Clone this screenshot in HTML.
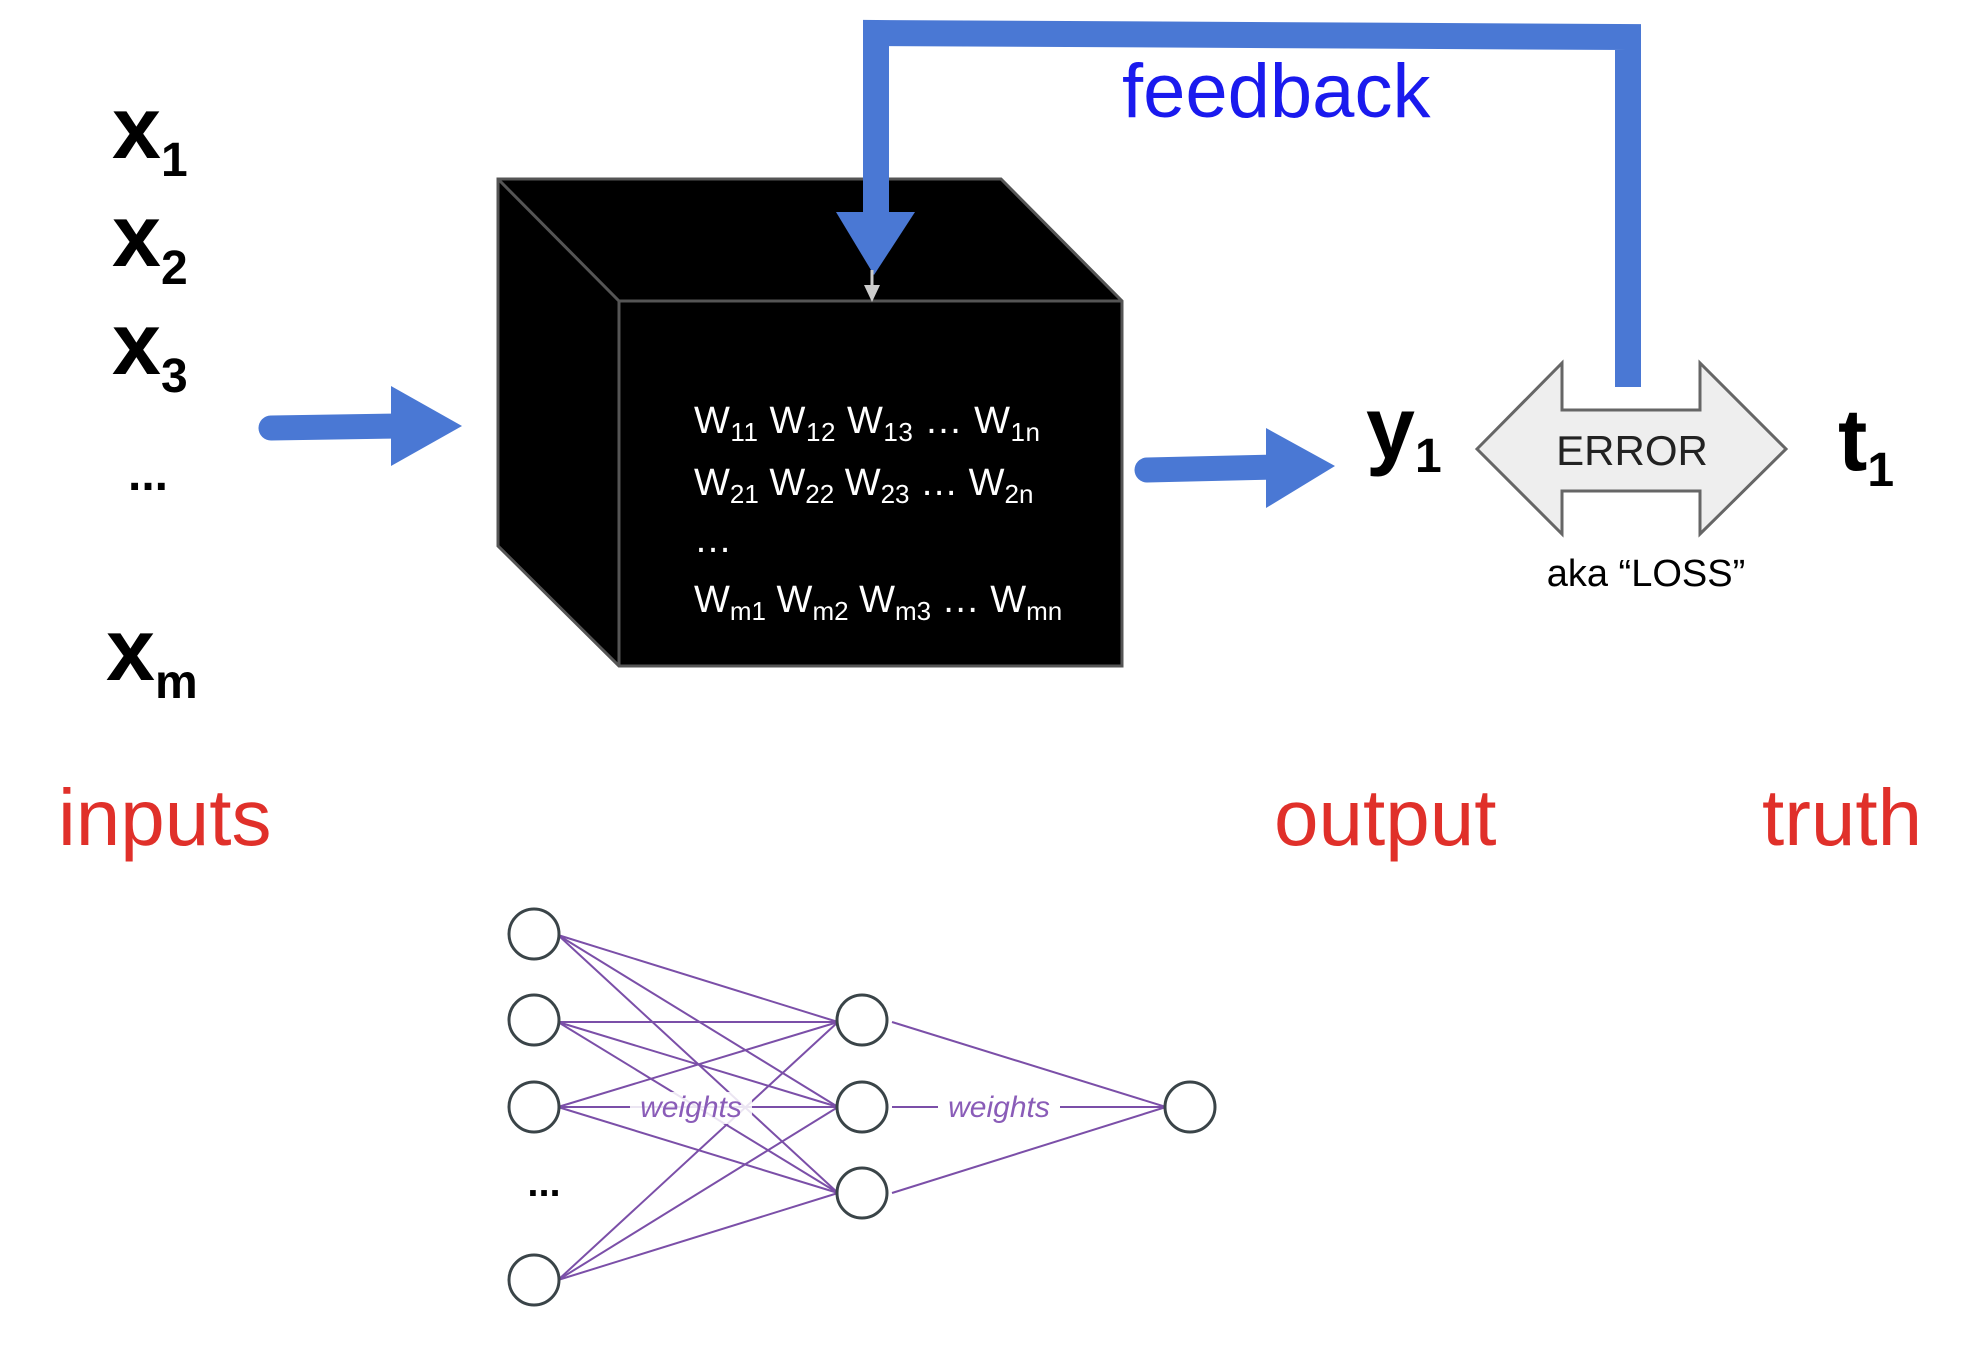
<!DOCTYPE html>
<html><head><meta charset="utf-8"><style>
html,body{margin:0;padding:0;background:#fff;}
svg{display:block;}
</style></head><body>
<svg width="1966" height="1350" viewBox="0 0 1966 1350" xmlns="http://www.w3.org/2000/svg" font-family="Liberation Sans, sans-serif">
<!-- cube -->
<polygon points="498,179 1001,179 1122,301 1122,666 619,666 498,546" fill="#000"/>
<polyline points="498,179 619,301 1122,301" fill="none" stroke="#555" stroke-width="3"/>
<line x1="619" y1="301" x2="619" y2="666" stroke="#555" stroke-width="3"/>
<polygon points="498,179 1001,179 1122,301 1122,666 619,666 498,546" fill="none" stroke="#555" stroke-width="3"/>
<g fill="#fff" font-size="38">
<text x="694" y="433" textLength="346">W<tspan font-size="26" dy="8">11</tspan><tspan dy="-8"> W</tspan><tspan font-size="26" dy="8">12</tspan><tspan dy="-8"> W</tspan><tspan font-size="26" dy="8">13</tspan><tspan dy="-8"> … W</tspan><tspan font-size="26" dy="8">1n</tspan></text>
<text x="694" y="495">W<tspan font-size="26" dy="8">21</tspan><tspan dy="-8"> W</tspan><tspan font-size="26" dy="8">22</tspan><tspan dy="-8"> W</tspan><tspan font-size="26" dy="8">23</tspan><tspan dy="-8"> … W</tspan><tspan font-size="26" dy="8">2n</tspan></text>
<text x="694" y="552">…</text>
<text x="694" y="612">W<tspan font-size="26" dy="8">m1</tspan><tspan dy="-8"> W</tspan><tspan font-size="26" dy="8">m2</tspan><tspan dy="-8"> W</tspan><tspan font-size="26" dy="8">m3</tspan><tspan dy="-8"> … W</tspan><tspan font-size="26" dy="8">mn</tspan></text>
</g>
<!-- feedback -->
<polyline points="876,215 876,33 1628,37 1628,387" fill="none" stroke="#4a78d4" stroke-width="26"/>
<polygon points="836,212 915,212 874,275" fill="#4a78d4"/>
<line x1="872" y1="270" x2="872" y2="290" stroke="#ccc" stroke-width="3"/>
<polygon points="864,285 880,285 872,302" fill="#ccc"/>
<text x="1122" y="117" font-size="76" fill="#1a1aee">feedback</text>
<!-- arrows -->
<line x1="271" y1="428" x2="400" y2="426" stroke="#4a78d4" stroke-width="25" stroke-linecap="round"/>
<polygon points="391,386 462,426 391,466" fill="#4a78d4"/>
<line x1="1147" y1="470" x2="1275" y2="467" stroke="#4a78d4" stroke-width="25" stroke-linecap="round"/>
<polygon points="1266,428 1335,466 1266,508" fill="#4a78d4"/>
<!-- error -->
<polygon points="1477,449 1562,363 1562,410 1700,410 1700,363 1786,449 1700,534 1700,491 1562,491 1562,534" fill="#eeeeee" stroke="#666" stroke-width="3"/>
<text x="1632" y="465" font-size="42" text-anchor="middle" fill="#222">ERROR</text>
<text x="1646" y="586" font-size="38" text-anchor="middle" fill="#000">aka “LOSS”</text>
<!-- variables -->
<g font-weight="bold" fill="#000">
<text x="112" y="158" font-size="88">x<tspan font-size="48" dy="18">1</tspan></text>
<text x="112" y="266" font-size="88">x<tspan font-size="48" dy="18">2</tspan></text>
<text x="112" y="374" font-size="88">x<tspan font-size="48" dy="18">3</tspan></text>
<text x="128" y="490" font-size="48">...</text>
<text x="106" y="680" font-size="88">x<tspan font-size="48" dy="18">m</tspan></text>
<text x="1366" y="458" font-size="88">y<tspan font-size="48" dy="14">1</tspan></text>
<text x="1838" y="470" font-size="88">t<tspan font-size="48" dy="16">1</tspan></text>
</g>
<g fill="#e0302a" font-size="80">
<text x="58" y="845">inputs</text>
<text x="1274" y="845">output</text>
<text x="1762" y="845">truth</text>
</g>
<!-- network -->
<g stroke="#7b4fa8" stroke-width="2">
<line x1="558" y1="935" x2="838" y2="1022"/><line x1="558" y1="935" x2="838" y2="1107"/><line x1="558" y1="935" x2="838" y2="1193"/>
<line x1="558" y1="1022" x2="838" y2="1022"/><line x1="558" y1="1022" x2="838" y2="1107"/><line x1="558" y1="1022" x2="838" y2="1193"/>
<line x1="558" y1="1107" x2="838" y2="1022"/><line x1="558" y1="1107" x2="838" y2="1107"/><line x1="558" y1="1107" x2="838" y2="1193"/>
<line x1="558" y1="1280" x2="838" y2="1022"/><line x1="558" y1="1280" x2="838" y2="1107"/><line x1="558" y1="1280" x2="838" y2="1193"/>
<line x1="892" y1="1022" x2="1166" y2="1107"/><line x1="892" y1="1107" x2="1166" y2="1107"/><line x1="892" y1="1193" x2="1166" y2="1107"/>
</g>
<g fill="#fff" stroke="#3a4448" stroke-width="3">
<circle cx="534" cy="934" r="25"/><circle cx="534" cy="1020" r="25"/><circle cx="534" cy="1107" r="25"/><circle cx="534" cy="1280" r="25"/>
<circle cx="862" cy="1020" r="25"/><circle cx="862" cy="1107" r="25"/><circle cx="862" cy="1193" r="25"/>
<circle cx="1190" cy="1107" r="25"/>
</g>
<text x="544" y="1196" font-size="40" font-weight="bold" text-anchor="middle">...</text>
<g font-size="30" fill="#8a5cb8" font-style="italic" text-anchor="middle">
<rect x="630" y="1092" width="122" height="32" fill="#fff" opacity="0.85"/>
<text x="691" y="1117">weights</text>
<rect x="938" y="1092" width="122" height="32" fill="#fff"/>
<text x="999" y="1117">weights</text>
</g>
</svg>
</body></html>
